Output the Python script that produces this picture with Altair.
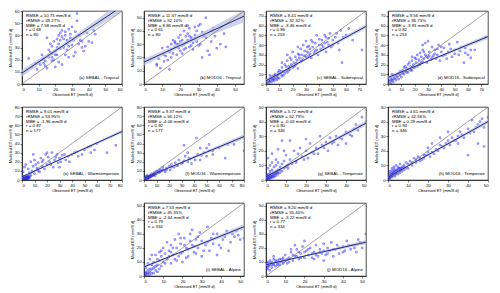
import altair as alt
import pandas as pd

FONT = "Liberation Sans"
W, H = 100, 73

# ---------------- (a) SEBAL - Tropical ----------------
a_x = [4, 6, 9, 10, 11, 12, 13, 14, 15, 15, 16, 17, 18, 18, 19, 20, 20, 21, 21, 22, 22, 23, 23, 24, 24,
       25, 25, 26, 26, 27, 27, 28, 28, 29, 30, 30, 31, 32, 33, 33, 34, 35, 36, 37, 38, 40, 42, 43, 20, 18,
       8, 12, 14, 16, 17, 19, 21, 22, 23, 24, 26, 27, 28, 29, 31, 32, 34, 36, 39, 44, 13, 18]
a_y = [21, 14, 12, 18, 16, 20, 21, 15, 38, 13, 22, 26, 31, 25, 20, 27, 14, 37, 30, 40, 18, 42, 29, 44, 16,
       30, 37, 40, 24, 33, 28, 45, 22, 38, 47, 32, 23, 26, 58, 52, 33, 36, 35, 27, 31, 35, 34, 44, 24, 19,
       17, 24, 19, 28, 33, 35, 24, 33, 36, 39, 43, 36, 31, 41, 36, 43, 40, 30, 42, 41, 17, 22]
a_bx = [0, 24, 60]
a_lo = [6, 29.4, 59.5]
a_mid = [9, 30.9, 63.7]
a_hi = [12, 32.4, 68]

# ---------------- (b) MOD16 - Tropical ----------------
b_x = [7, 7, 10, 11, 12, 13, 14, 15, 15, 16, 17, 18, 18, 19, 19, 20, 20, 21, 21, 22, 22, 23, 23, 24, 24,
       25, 25, 26, 27, 27, 28, 28, 29, 30, 30, 31, 32, 33, 34, 35, 36, 37, 38, 40, 42, 45, 17, 26, 14, 9,
       8, 11, 13, 15, 16, 17, 19, 20, 21, 22, 23, 24, 25, 26, 28, 29, 31, 32, 34, 37, 39, 44]
b_y = [14, 15, 27, 17, 21, 28, 24, 20, 26, 33, 28, 30, 22, 35, 27, 32, 25, 29, 23, 40, 30, 36, 27, 33, 38,
       28, 42, 34, 31, 26, 37, 43, 32, 44, 29, 45, 20, 36, 50, 25, 22, 40, 42, 27, 30, 28, 32, 35, 11, 12,
       19, 22, 18, 30, 23, 31, 30, 37, 33, 26, 31, 44, 36, 29, 34, 40, 30, 39, 35, 32, 36, 38]
b_bx = [0, 22, 55]
b_lo = [14, 29, 46.6]
b_mid = [16.5, 30.4, 51.1]
b_hi = [19, 31.8, 55.6]

# ---------------- (c) SEBAL - Subtropical ----------------
c_x = [1, 2, 2, 3, 3, 4, 4, 5, 5, 6, 6, 7, 7, 8, 8, 9, 9, 10, 10, 3,
       11, 12, 12, 13, 14, 14, 15, 16, 16, 17, 18, 18, 19, 20, 20,
       21, 22, 22, 23, 24, 24, 25, 26, 26, 27, 28, 28, 29, 30, 30,
       31, 32, 32, 33, 34, 34, 35, 36, 37, 38, 38, 39, 40,
       41, 42, 43, 44, 45, 46, 47, 48, 49, 50, 52, 54, 55,
       57, 58, 60, 62, 65, 72, 56,
       2, 4, 5, 6, 8, 9, 11, 13, 15, 17, 19, 21, 23, 25, 27, 29, 31, 33, 35, 37,
       40, 42, 44, 47, 50, 53, 45, 16, 12, 24]
c_y = [2, 1, 4, 3, 6, 2, 5, 4, 8, 3, 6, 5, 10, 7, 4, 9, 12, 6, 14, 9,
       10, 8, 17, 13, 11, 20, 14, 12, 24, 18, 15, 27, 20, 17, 33,
       22, 19, 28, 25, 31, 16, 27, 23, 36, 30, 25, 40, 34, 28, 44,
       33, 29, 39, 36, 27, 45, 38, 32, 42, 35, 50, 30, 40,
       36, 45, 38, 50, 33, 43, 40, 52, 38, 45, 48, 42, 35,
       22, 48, 50, 57, 45, 35, 55,
       3, 7, 5, 9, 9, 6, 13, 9, 18, 14, 25, 18, 21, 30, 24, 29, 38, 31, 43, 34,
       46, 40, 42, 47, 40, 52, 48, 30, 22, 38]
c_bx = [0, 28, 75]
c_lo = [1.8, 23.6, 56.7]
c_mid = [3.3, 24.2, 59.2]
c_hi = [4.8, 24.8, 61.7]

# ---------------- (d) MOD16 - Subtropical ----------------
d_x = [1, 2, 2, 3, 4, 4, 5, 6, 6, 7, 8, 8, 9, 10, 10, 3,
       11, 12, 12, 13, 14, 15, 15, 16, 17, 18, 18, 19, 20, 20,
       21, 22, 22, 23, 24, 25, 26, 26, 27, 28, 28, 29, 30, 30,
       31, 32, 33, 34, 35, 36, 37, 38, 39, 40,
       41, 42, 44, 45, 46, 48, 50, 52, 53, 55, 57, 58, 60, 62, 73, 65,
       2, 4, 5, 7, 9, 11, 13, 14, 16, 17, 19, 21, 23, 24, 25, 27, 29, 31, 33, 35,
       37, 40, 43, 47, 50, 54, 58, 62, 18, 26]
d_y = [3, 1, 6, 4, 8, 2, 6, 9, 4, 7, 11, 5, 9, 12, 7, 10,
       14, 10, 17, 13, 16, 12, 20, 15, 18, 14, 24, 20, 17, 27,
       22, 18, 30, 25, 20, 28, 23, 35, 26, 42, 30, 22, 44, 27,
       33, 25, 38, 29, 35, 26, 30, 40, 24, 33,
       29, 37, 26, 33, 41, 28, 35, 43, 30, 38, 22, 32, 30, 27, 48, 35,
       4, 5, 9, 10, 13, 11, 18, 12, 22, 14, 17, 26, 20, 32, 22, 33, 28, 29, 27, 31,
       36, 38, 30, 36, 31, 34, 37, 35, 28, 40]
d_bx = [0, 28, 75]
d_lo = [5.2, 21.8, 46.2]
d_mid = [6.7, 22.4, 48.7]
d_hi = [8.2, 23.0, 51.2]

# ---------------- (e) SEBAL - Warmtemperate ----------------
e_x = [0.5, 1, 1, 1.5, 2, 2, 2.5, 3, 3, 3.5, 4, 4, 5, 5, 6, 1, 0.5, 2, 3, 4,
       1, 2, 3, 5, 6, 7, 8, 9, 10, 10, 12, 13, 14, 15, 16, 17, 18, 19, 20, 21,
       22, 24, 25, 26, 28, 29, 30, 30, 32, 35, 37, 38, 40, 42, 45, 50, 53, 55,
       58, 60, 68, 75, 80, 55, 9, 20,
       0.3, 1, 1.5, 2, 2.5, 3, 3.5, 4, 4.5, 5, 5.5, 6, 7, 1, 2, 11, 13, 16, 23, 27, 31, 34, 44, 48]
e_y = [0.5, 1, 2, 0.8, 1.5, 3, 2, 1, 2.5, 3, 2, 4, 3, 1.5, 4, 4, 2, 0.5, 4.5, 1,
       9, 14, 17, 12, 8, 20, 10, 15, 7, 22, 13, 19, 9, 24, 15, 22, 12, 28, 17, 25,
       20, 30, 14, 22, 28, 19, 24, 14, 27, 22, 26, 20, 28, 30, 26, 33, 36, 37,
       33, 40, 30, 38, 53, 30, 28, 30,
       0.3, 0.5, 1.5, 2, 1, 3, 1.5, 3, 2.5, 4, 3, 2, 5, 3, 4, 17, 10, 20, 17, 25, 20, 28, 31, 28]
e_bx = [0, 18, 80]
e_lo = [2.5, 14.2, 51.1]
e_mid = [3.5, 14.7, 53.1]
e_hi = [4.5, 15.2, 55.1]

# ---------------- (f) MOD16 - Warmtemperate ----------------
f_x = [0.5, 1, 1, 2, 2, 3, 3, 4, 4, 5, 5, 6, 7, 8, 9, 10, 1.5, 2.5, 6, 8, 3,
       10, 12, 13, 14, 15, 16, 17, 18, 20, 21, 22, 24, 25, 27, 28, 30, 32, 32,
       33, 35, 36, 38, 40, 42, 43, 45, 48, 50, 52, 52, 55, 60, 65, 67, 72, 80, 45, 35,
       0.3, 1, 1.5, 2, 2.5, 3, 3.5, 4, 4.5, 5, 5.5, 6, 7, 8, 9, 11, 12, 13, 15, 18, 22, 26,
       31, 37, 41, 46, 50, 55]
f_y = [0.5, 1, 2, 1.5, 3, 2, 3.5, 2.5, 4, 3, 5, 4, 5, 6, 5, 7, 4, 5, 7, 8, 1,
       10, 8, 12, 10, 14, 11, 9, 13, 15, 11, 17, 14, 19, 16, 22, 18, 21, 38,
       26, 20, 24, 18, 25, 46, 28, 22, 30, 26, 39, 32, 28, 35, 24, 39, 39, 32, 35, 30,
       0.3, 1.5, 2.5, 2, 3.5, 2.5, 4, 3, 4.5, 4, 4, 5, 6, 5, 7, 9, 10, 9, 11, 11, 14, 16,
       19, 23, 22, 27, 35, 32]
f_bx = [0, 15, 80]
f_lo = [1.2, 10.2, 45.1]
f_mid = [2, 10.6, 47.6]
f_hi = [2.8, 11.0, 50.1]

# ---------------- (g) SEBAL - Temperate ----------------
g_x = [0.3, 0.5, 1, 1, 1.5, 2, 2, 2.5, 3, 3, 3.5, 4, 4, 5, 5, 6, 6, 7, 8, 1, 2, 0.5, 3, 1, 4, 2, 5, 7, 8, 3,
       1, 3, 5, 6, 8, 9, 10, 11, 12, 12, 14, 15, 16, 17, 18, 20, 21, 22, 23, 25, 26, 28, 30, 31,
       32, 34, 35, 36, 38, 40, 42, 44, 45, 47, 48, 50, 40, 27, 20,
       0.5, 1, 1.5, 2, 2.5, 3, 3.5, 4, 4.5, 5, 5.5, 6, 2, 1, 0.8, 7, 9, 10, 11, 13, 15, 19, 24, 29,
       33, 37, 43, 46, 6, 9]
g_y = [0.3, 1, 0.5, 2, 1.5, 1, 3, 2, 1.5, 4, 3, 2, 5, 3, 6, 4, 7, 5, 6, 4, 6, 3, 7, 8, 9, 10, 10, 9, 11, 12,
       15, 18, 14, 21, 27, 13, 17, 10, 27, 14, 20, 12, 18, 22, 16, 20, 15, 25, 19, 22, 18, 24, 26, 20,
       29, 26, 30, 24, 28, 33, 31, 35, 38, 37, 43, 40, 25, 30, 28,
       0.5, 1.5, 2.5, 1.5, 3.5, 2.5, 5, 3, 4, 4.5, 5, 5.5, 4.5, 3, 1.2, 7, 8, 9, 8, 11, 13, 14, 18, 22,
       25, 29, 30, 34, 12, 20]
g_bx = [0, 10, 50]
g_lo = [1.6, 9.2, 37.4]
g_mid = [2.2, 9.55, 38.95]
g_hi = [2.8, 9.9, 40.5]

# ---------------- (h) MOD16 - Temperate ----------------
h_x = [0.3, 0.5, 1, 1, 1.5, 2, 2, 2.5, 3, 3, 3.5, 4, 4, 5, 5, 6, 6, 7, 7, 8, 1, 2, 3, 4, 5, 6, 8, 9, 10,
       10, 11, 12, 13, 14, 15, 16, 17, 18, 19, 20, 21, 22, 23, 24, 25, 26, 28, 29, 30, 31, 32,
       34, 35, 36, 38, 40, 42, 43, 45, 46, 48, 50, 48, 45, 40, 30, 20, 26, 35,
       0.5, 1, 1.5, 2, 2.5, 3, 3.5, 4, 4.5, 5, 5.5, 6, 6.5, 7, 8, 9, 1, 2, 3, 12, 14, 16, 18, 22,
       27, 33, 37, 41, 44, 47]
h_y = [1, 2, 3, 1, 4, 2, 5, 3, 6, 4, 2.5, 5, 7, 4, 6, 5, 8, 6, 9, 7, 6, 8, 9, 10, 9, 11, 10, 12, 11,
       8, 13, 10, 15, 12, 16, 13, 14, 15, 17, 19, 16, 25, 18, 21, 20, 24, 22, 25, 27, 24, 29,
       27, 30, 33, 29, 35, 41, 33, 38, 40, 36, 43, 23, 25, 17, 33, 22, 29, 25,
       1.5, 2, 2.5, 3.5, 4.5, 5, 6, 4, 6.5, 7.5, 8, 6.5, 7.5, 8, 9, 8, 4.5, 6.5, 7.5, 12, 14, 15, 17, 19,
       23, 27, 31, 32, 36, 42]
h_bx = [0, 10, 50]
h_lo = [1.5, 9.3, 38.5]
h_mid = [2, 9.6, 40]
h_hi = [2.5, 9.9, 41.5]

# ---------------- (i) SEBAL - Alpine ----------------
i_x = [0.5, 1, 1, 2, 2, 3, 3, 4, 5, 5, 6, 7, 1, 2, 3, 4, 5, 6, 7, 8, 8, 9, 9, 10, 10, 11, 12, 12,
       13, 14, 14, 15, 16, 16, 17, 18, 18, 19, 20, 20, 21, 22, 23, 24, 25, 25, 26, 27, 28, 29,
       30, 30, 32, 33, 34, 35, 36, 38, 40, 41, 43, 45, 47, 48, 50, 52, 38, 44,
       1, 2, 3, 4, 4, 6, 7, 8, 9, 11, 13, 15, 17, 19, 21, 22, 24, 26, 28, 31, 33, 36, 39, 42,
       46, 49, 19, 27, 14, 23]
i_y = [0.5, 1, 3, 2, 4, 1, 3, 5, 2, 6, 4, 3, 6, 9, 12, 15, 10, 15, 8, 11, 17, 7, 14, 10, 20, 16, 12, 24,
       18, 9, 22, 15, 26, 12, 20, 14, 30, 23, 17, 10, 27, 20, 14, 30, 22, 33, 17, 26, 20, 31,
       25, 14, 22, 35, 18, 27, 23, 30, 20, 26, 32, 24, 28, 32, 26, 27, 15, 18,
       2, 1, 5, 2, 8, 7, 12, 5, 18, 9, 14, 20, 11, 16, 22, 13, 25, 21, 28, 18, 24, 30, 22, 28,
       30, 29, 27, 16, 17, 19]
i_bx = [0, 18, 52]
i_lo = [5.5, 16.0, 33.1]
i_mid = [6.5, 16.4, 35.1]
i_hi = [7.5, 16.8, 37.1]

# ---------------- (j) MOD16 - Alpine ----------------
j_x = [0.5, 1, 1, 1.5, 2, 2, 3, 3, 4, 4, 5, 5, 6, 6, 7, 7, 8, 9, 9, 10, 1, 2, 3, 0.5, 4,
       10, 11, 12, 13, 14, 15, 16, 17, 18, 19, 20, 20, 21, 22, 23, 24, 25, 26, 27, 28, 29,
       30, 31, 32, 33, 34, 35, 36, 37, 38, 40, 41, 42, 44, 45, 47, 48, 50, 52, 30, 15,
       1, 2, 3, 4, 5, 6, 7, 8, 9, 11, 12, 14, 16, 18, 20, 22, 24, 26, 28, 30, 32, 35, 38, 40,
       43, 46, 49, 25, 17, 13]
j_y = [6, 8, 10, 7, 9, 11, 8, 10, 9, 12, 7, 10, 9, 11, 8, 12, 10, 9, 13, 11, 5, 4, 6, 9, 14,
       15, 9, 13, 17, 11, 14, 19, 12, 16, 21, 13, 25, 18, 15, 20, 13, 17, 22, 14, 19, 16,
       23, 15, 20, 18, 24, 14, 19, 22, 16, 21, 18, 25, 19, 22, 17, 26, 20, 30, 11, 22,
       7, 8, 9, 8, 11, 8, 10, 12, 11, 12, 10, 15, 14, 13, 17, 19, 16, 15, 17, 18, 16, 19, 20, 17,
       22, 20, 24, 12, 17, 19]
j_bx = [0, 16, 52]
j_lo = [7.2, 12.6, 22.6]
j_mid = [8, 13, 24.1]
j_hi = [8.8, 13.4, 25.6]

# ---------------- texts, axis ranges ----------------
labels = ["(a) SEBAL - Tropical", "(b) MOD16 - Tropical", "(c) SEBAL - Subtropical",
          "(d) MOD16 - Subtropical", "(e) SEBAL - Warmtemperate", "(f) MOD16 - Warmtemperate",
          "(g) SEBAL - Temperate", "(h) MOD16 - Temperate", "(i) SEBAL - Alpine", "(j) MOD16 - Alpine"]
rmse = ["10.75", "11.37", "8.41", "9.56", "9.01", "9.37", "5.72", "4.61", "7.53", "9.20"]
rrmse = ["49.27", "52.10", "32.32", "36.73", "53.95", "56.12", "52.79", "42.56", "45.35", "55.40"]
mbe = ["7.58", "8.86", "-3.46", "-3.91", "-1.96", "-4.06", "-0.03", "0.29", "-2.64", "-3.22"]
rval = ["0.68", "0.61", "0.86", "0.82", "0.87", "0.92", "0.90", "0.94", "0.79", "0.77"]
nval = ["80", "80", "253", "253", "177", "177", "346", "346", "334", "334"]
vmax = [60, 55, 75, 75, 80, 80, 50, 50, 52, 52]
vtick = [60, 50, 70, 70, 80, 80, 50, 50, 50, 50]

series = [
    (a_x, a_y, a_bx, a_lo, a_mid, a_hi),
    (b_x, b_y, b_bx, b_lo, b_mid, b_hi),
    (c_x, c_y, c_bx, c_lo, c_mid, c_hi),
    (d_x, d_y, d_bx, d_lo, d_mid, d_hi),
    (e_x, e_y, e_bx, e_lo, e_mid, e_hi),
    (f_x, f_y, f_bx, f_lo, f_mid, f_hi),
    (g_x, g_y, g_bx, g_lo, g_mid, g_hi),
    (h_x, h_y, h_bx, h_lo, h_mid, h_hi),
    (i_x, i_y, i_bx, i_lo, i_mid, i_hi),
    (j_x, j_y, j_bx, j_lo, j_mid, j_hi),
]


def panel(k):
    xs, ys, bx, blo, bmid, bhi = series[k]
    m = vmax[k]
    ticks = list(range(0, vtick[k] + 1, 10))
    sx = alt.Scale(domain=[0, m], nice=False)
    sy = alt.Scale(domain=[0, m], nice=False)
    ax_x = alt.Axis(values=ticks, title="Observed ET (mm/8 d)")
    ax_y = alt.Axis(values=ticks, title="Modeled ET (mm/8 d)")
    X = alt.X("x:Q", scale=sx, axis=ax_x)
    pts = pd.DataFrame({"x": xs, "y": ys})
    band = pd.DataFrame({"x": bx, "lo": blo, "mid": bmid, "hi": bhi})
    diag = pd.DataFrame({"x": [0, m], "y": [0, m]})
    dots = alt.Chart(pts).mark_point(shape="square", size=2.5, filled=False, strokeWidth=0.6,
                                     color="#2424ff", opacity=0.85, clip=True).encode(
        x=X, y=alt.Y("y:Q", scale=sy, axis=ax_y))
    area = alt.Chart(band).mark_area(color="#b9bfe0", opacity=0.7, clip=True).encode(
        x=X, y=alt.Y("lo:Q", scale=sy, axis=ax_y), y2="hi:Q")
    one = alt.Chart(diag).mark_line(color="#666666", strokeWidth=0.6, clip=True).encode(
        x=X, y=alt.Y("y:Q", scale=sy, axis=ax_y))
    reg = alt.Chart(band).mark_line(color="#1f2a7c", strokeWidth=1, clip=True).encode(
        x=X, y=alt.Y("mid:Q", scale=sy, axis=ax_y))
    stats = [f"RMSE = {rmse[k]} mm/8 d", f"rRMSE = {rrmse[k]}%", f"MBE = {mbe[k]} mm/8 d",
             f"r = {rval[k]}", f"n = {nval[k]}"]
    txt = alt.Chart(alt.Data(values=[{}])).mark_text(
        text=stats, align="left", baseline="top", fontSize=4.4, lineHeight=4.8, font=FONT,
        color="black").encode(x=alt.value(4), y=alt.value(3))
    lab = alt.Chart(alt.Data(values=[{}])).mark_text(
        text=labels[k], align="right", baseline="bottom", fontSize=4.4, font=FONT,
        color="black").encode(x=alt.value(W - 3), y=alt.value(H - 4))
    return alt.layer(dots, area, one, reg, txt, lab).properties(width=W, height=H)


spacer = alt.Chart(alt.Data(values=[{}])).mark_point(opacity=0).encode(
    x=alt.value(0), y=alt.value(0)).properties(
    width=W, height=H, view=alt.ViewBackground(strokeOpacity=0))

charts = [panel(k) for k in range(8)] + [spacer, panel(8), panel(9)]

chart = alt.concat(*charts, columns=4, spacing={"row": 6, "column": 7}).properties(
    padding=0
).configure(font=FONT).configure_view(
    stroke="black", strokeWidth=0.7
).configure_axis(
    grid=False, labelFontSize=4.2, titleFontSize=4.0, titleFontWeight="normal",
    tickSize=2, tickWidth=0.5, domainWidth=0.6, domainColor="black", tickColor="black",
    labelColor="black", titleColor="black", labelPadding=1, titlePadding=1.5,
    labelFont=FONT, titleFont=FONT
)

chart.save("out.html", embed_options={"renderer": "svg", "actions": False})
